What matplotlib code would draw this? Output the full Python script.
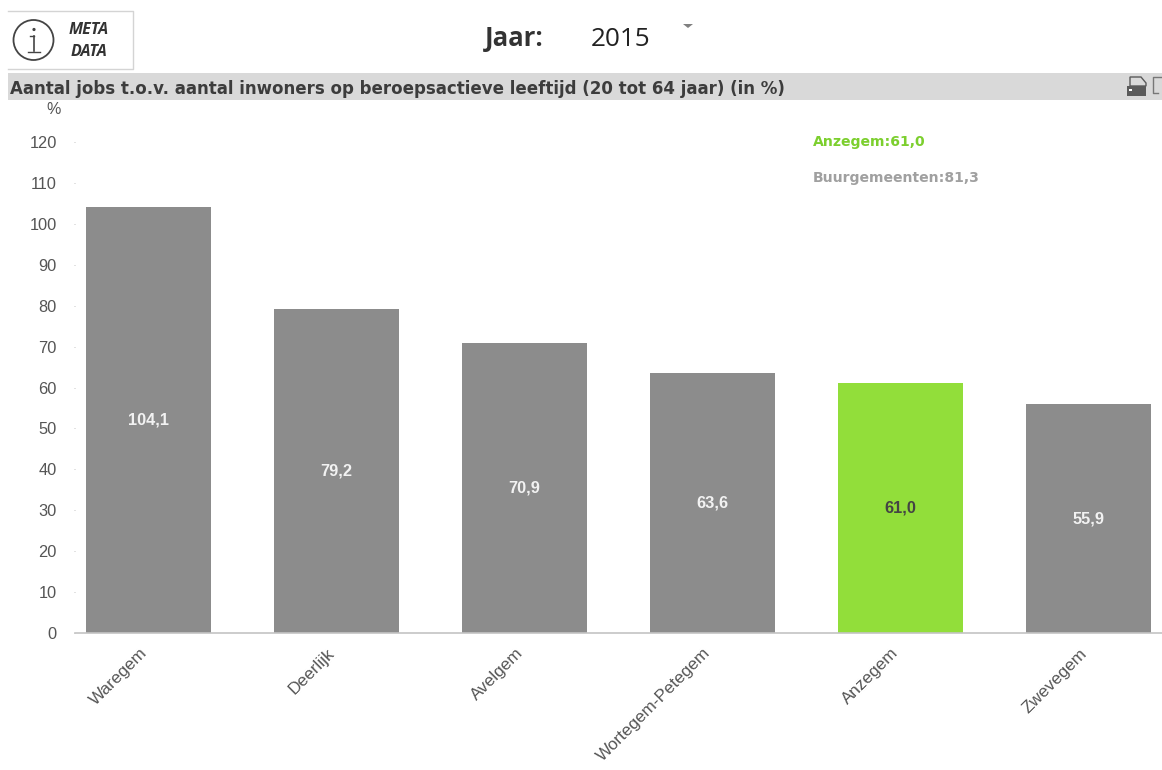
import matplotlib
matplotlib.use('Agg')
import matplotlib.pyplot as plt
from matplotlib.patches import Rectangle, Circle, Polygon
from matplotlib.transforms import ScaledTranslation

# chart data
gemeenten = ['Waregem', 'Deerlijk', 'Avelgem', 'Wortegem-Petegem', 'Anzegem', 'Zwevegem']
waarden = [104.1, 79.2, 70.9, 63.6, 61.0, 55.9]
waarde_labels = ['104,1', '79,2', '70,9', '63,6', '61,0', '55,9']
y_ticks = [0, 10, 20, 30, 40, 50, 60, 70, 80, 90, 100, 110, 120]
highlight = 'Anzegem'

W, H = 1162, 770
GREY = '#8c8c8c'
GREEN = '#92de3a'

plt.rcParams['font.family'] = ['Liberation Sans', 'DejaVu Sans']

fig = plt.figure(figsize=(W / 100, H / 100), dpi=100)

# full-figure overlay in pixel coords for the header things
bg = fig.add_axes([0, 0, 1, 1])
bg.set_xlim(0, W)
bg.set_ylim(H, 0)
bg.axis('off')

bg.add_patch(Rectangle((8, 73), 1154, 27, fc='#d9d9d9', ec='none'))
# meta data box, no left border
bg.plot([8, 133, 133, 8], [11, 11, 69, 69], color='#d4d4d4', lw=1)
bg.add_patch(Circle((33.5, 40), 20, fc='white', ec='#444444', lw=1.3))
bg.plot([34, 34], [36, 51], color='#444444', lw=1.2)
bg.plot([30, 34], [36, 36], color='#444444', lw=1.0)
bg.plot([28, 40], [52, 52], color='#444444', lw=1.0)
bg.add_patch(Circle((34, 29.5), 1.6, fc='#444444', ec='none'))
bg.text(88.5, 30, 'META', fontsize=11.5, fontweight='bold', style='italic', color='#333333',
        ha='center', va='center', family=['Open Sans', 'DejaVu Sans'])
bg.text(88.5, 52, 'DATA', fontsize=11.5, fontweight='bold', style='italic', color='#333333',
        ha='center', va='center', family=['Open Sans', 'DejaVu Sans'])

bg.text(514.5, 39, 'Jaar:', fontsize=18.5, fontweight='bold', color='#333333', ha='center', va='center',
        family=['Open Sans', 'DejaVu Sans'])
bg.text(621, 39, '2015', fontsize=18.8, color='#222222', ha='center', va='center',
        family=['Open Sans', 'DejaVu Sans'])
bg.add_patch(Polygon([[683, 24], [693, 24], [688, 28]], fc='#808080', ec='none'))

bg.text(10, 88.5, 'Aantal jobs t.o.v. aantal inwoners op beroepsactieve leeftijd (20 tot 64 jaar) (in %)',
        fontsize=11.95, fontweight='bold', color='#3c3c3c', ha='left', va='center',
        family=['DejaVu Sans'])

# print and export icons at the right of the title bar
bg.add_patch(Polygon([[1130, 77], [1141, 77], [1146, 83], [1146, 86], [1130, 86]],
                     fc='#d9d9d9', ec='#5a5a5a', lw=1))
bg.add_patch(Rectangle((1127, 86), 19, 10, fc='#5a5a5a', ec='none'))
bg.add_patch(Rectangle((1129, 89), 3, 2, fc='white', ec='none'))
bg.plot([1162, 1153, 1153, 1158], [77, 77, 93, 93], color='#777777', lw=1)

bg.text(54, 109, '%', fontsize=11.5, color='#555555', ha='center', va='center')

# plot area: y=0 at pixel 633, y=120 at pixel 142
left, right, top, bottom = 75, 1162, 142, 633
ax = fig.add_axes([left / W, 1 - bottom / H, (right - left) / W, (bottom - top) / H])
ax.patch.set_alpha(0)

x = range(len(gemeenten))
kleuren = [GREEN if g == highlight else GREY for g in gemeenten]
ax.bar(x, waarden, width=0.665, color=kleuren, zorder=2)

for i, g in enumerate(gemeenten):
    kleur = '#444444' if g == highlight else '#f2f2f2'
    ax.text(i, waarden[i] / 2, waarde_labels[i], ha='center', va='center',
            fontsize=11.8, fontweight='bold', color=kleur)

ax.set_xlim(-0.389, 5.393)
ax.set_ylim(0, 120)
ax.set_yticks(y_ticks)
ax.set_xticks(list(x))
ax.set_xticklabels(gemeenten, rotation=45, ha='right', rotation_mode='anchor')
ax.tick_params(axis='y', length=1, width=0.6, color='#bbbbbb', labelcolor='#555555', labelsize=11.8, pad=12)
ax.tick_params(axis='x', length=0, labelcolor='#555555', labelsize=12.3, pad=9)

# x labels sit a bit further left than the tick
shift = ScaledTranslation(-9 / 100, 0, fig.dpi_scale_trans)
for lab in ax.get_xticklabels():
    lab.set_transform(lab.get_transform() + shift)

for s in ['top', 'right', 'left']:
    ax.spines[s].set_visible(False)
ax.spines['bottom'].set_color('#c4c4c4')
ax.spines['bottom'].set_linewidth(1.2)

bg.text(813, 142, 'Anzegem:61,0', fontsize=10.1, fontweight='bold', color='#7ccf2e', ha='left', va='center',
        family=['DejaVu Sans'])
bg.text(813, 178, 'Buurgemeenten:81,3', fontsize=10.1, fontweight='bold', color='#a0a0a0', ha='left', va='center',
        family=['DejaVu Sans'])

fig.savefig('out.png', dpi=100)
